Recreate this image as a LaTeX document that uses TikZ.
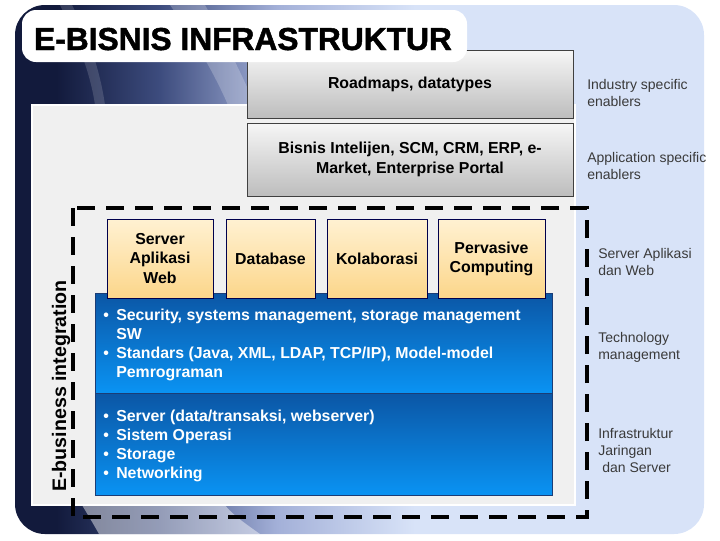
\documentclass[tikz,border=0pt]{standalone}
\usepackage{fontspec}
\setmainfont{Liberation Sans}
\newfontfamily\titlefont[FakeBold=1.5]{Liberation Sans Bold}

\definecolor{navy}{HTML}{121A3C}
\definecolor{midblue}{HTML}{3D4C7E}
\definecolor{paleblue}{HTML}{A3B0D8}
\definecolor{lightblue}{HTML}{D8E3F8}
\definecolor{panelgray}{HTML}{F0F0F0}
\definecolor{boxtop}{HTML}{F6F6F6}
\definecolor{boxbottom}{HTML}{BDBDBD}
\definecolor{orangetop}{HTML}{FFF1D2}
\definecolor{orangebottom}{HTML}{FCD68A}
\definecolor{bluetop}{HTML}{0B56A5}
\definecolor{bluebottom}{HTML}{0A93F3}
\definecolor{blueborder}{HTML}{1B3D76}
\definecolor{labelgray}{HTML}{3A3A3A}

\pgfdeclarehorizontalshading{framefade}{100bp}{color(0bp)=(navy); color(28bp)=(navy); color(35.5bp)=(midblue); color(44bp)=(paleblue); color(54bp)=(lightblue); color(100bp)=(lightblue)}

\newcommand{\blitem}{\makebox[9.75pt][l]{\textbullet}}
\newcommand{\blindent}{\hspace*{9.75pt}}

\tikzset{
  graybox/.style={draw=black!75, line width=0.75pt, top color=boxtop, bottom color=boxbottom,
    align=center, font=\fontsize{11.9}{15}\selectfont\bfseries},
  orangebox/.style={draw=black!70!blue, line width=0.75pt, top color=orangetop, bottom color=orangebottom,
    align=center, minimum height=59.25pt, font=\fontsize{11.9}{14.3}\selectfont\bfseries},
  bluebox/.style={draw=blueborder, line width=0.75pt, top color=bluetop, bottom color=bluebottom,
    minimum width=342.75pt},
  titlebox/.style={fill=white, rounded corners=10.5pt},
  bullets/.style={text=white, align=left, anchor=base west, inner sep=0pt,
    font=\fontsize{11.9}{14.3}\selectfont\bfseries},
  sidelabel/.style={text=labelgray, align=left, anchor=base west, inner sep=0pt,
    font=\fontsize{10.5}{12.75}\selectfont},
}

\begin{document}
\begin{tikzpicture}[x=0.75pt, y=-0.75pt]
\useasboundingbox (0,0) rectangle (720,540);

% bingkai latar
\path[shading=framefade, rounded corners=22.5pt] (15,5) rectangle (704,534);
\begin{scope}
  \clip[rounded corners=22.5pt] (15,5) rectangle (704,534);
  \fill[white, opacity=.22] (170,5) .. controls (195,40) and (215,75) .. (228,105) -- (255,105) .. controls (240,70) and (222,35) .. (205,5) -- cycle;
  \fill[white, opacity=.15] (60,5) .. controls (75,35) and (90,70) .. (95,105) -- (105,105) .. controls (100,70) and (88,35) .. (72,5) -- cycle;
  \fill[white, opacity=.45] (82,505) .. controls (88,515) and (94,525) .. (99,534) -- (260,534) .. controls (240,520) and (230,512) .. (225,505) -- cycle;
\end{scope}

% panel abu-abu
\fill[panelgray, draw=white, line width=1.5pt] (32,105) rectangle (575,505);

% lapisan enabler
\node[graybox, minimum width=244.5pt, minimum height=51pt] (roadmap) at (410,84) {Roadmaps, datatypes};
\node[graybox, minimum width=244.5pt, minimum height=54.75pt] (aplikasi) at (410,159.5) {Bisnis Intelijen, SCM, CRM, ERP, e-\\Market, Enterprise Portal};

% judul
\node[titlebox, minimum width=333.75pt, minimum height=39pt] (judulbox) at (244.5,36) {};
\node[anchor=base, inner sep=0pt, font=\fontsize{23.8}{28}\selectfont\titlefont] (judul) at (243,50) {E-BISNIS INFRASTRUKTUR};

% keterangan kanan (baseline baris terakhir)
\node[sidelabel] (ketindustri) at (587,106.5) {Industry specific\\enablers};
\node[sidelabel] (ketaplikasi) at (587,179.5) {Application specific\\enablers};
\node[sidelabel] (ketserver) at (598,275.5) {Server Aplikasi\\dan Web};
\node[sidelabel] (kettekno) at (598,359.5) {Technology\\management};
\node[sidelabel] (ketinfra) at (598,472.5) {Infrastruktur\\Jaringan\\\hspace*{3pt}dan Server};

% lapisan biru
\node[bluebox, minimum height=75pt] (teknologi) at (323.5,343) {};
\node[bluebox, minimum height=76.5pt] (infra) at (323.5,444) {};

% kotak layanan
\node[orangebox, minimum width=79.5pt] (webserver) at (160,258.5) {Server\\Aplikasi\\Web};
\node[orangebox, minimum width=66.75pt] (database) at (270.5,258.5) {Database};
\node[orangebox, minimum width=75pt] (kolaborasi) at (377,258.5) {Kolaborasi};
\node[orangebox, minimum width=80.25pt] (pervasive) at (491.5,258.5) {Pervasive\\Computing};

% isi lapisan biru
\node[bullets] (tekteks) at (103,377.5) {\blitem Security, systems management, storage management\\\blindent SW\\\blitem Standars (Java, XML, LDAP, TCP/IP), Model-model\\\blindent Pemrograman};
\node[bullets] (infrateks) at (103,478.5) {\blitem Server (data/transaksi, webserver)\\\blitem Sistem Operasi\\\blitem Storage\\\blitem Networking};

% batas integrasi
\draw[line width=3pt, dash pattern=on 13.5pt off 8.25pt] (73,208) rectangle (587,517);
\node[rotate=90, anchor=base, inner sep=0pt, font=\fontsize{14.7}{17}\selectfont\bfseries] (integrasi) at (66,386) {E-business integration};

\end{tikzpicture}
\end{document}
